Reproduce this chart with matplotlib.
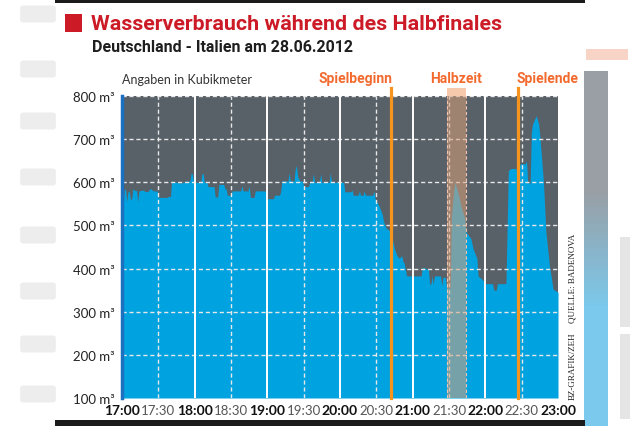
import numpy as np
import matplotlib.pyplot as plt
from matplotlib.patches import Rectangle, FancyBboxPatch
from matplotlib.colors import LinearSegmentedColormap

# Wasserverbrauch (m³) - Minuten nach 17:00 Uhr
minutes = [0, 1, 2, 3, 4, 5, 6, 7, 8, 9, 11, 12, 13, 14, 17, 20, 22, 23, 26, 29,
           30, 37, 38, 40, 41, 45, 49, 53, 56, 57, 58, 59, 60, 65, 66, 67, 68, 70, 71, 76,
           77, 79, 80, 84, 85, 86, 87, 90, 91, 98, 99, 100, 104, 105, 106, 109, 110, 118, 119, 120,
           125, 126, 130, 131, 132, 137, 138, 139, 142, 143, 144, 145, 147, 149, 150, 154, 155, 157, 158, 159,
           163, 164, 165, 171, 172, 173, 179, 183, 184, 189, 190, 191, 195, 196, 197, 199, 200, 201, 207, 208,
           209, 211, 213, 215, 216, 218, 220, 222, 225, 227, 229, 231, 232, 233, 235, 247, 248, 250, 251, 253,
           254, 255, 256, 257, 258, 263, 264, 265, 267, 268, 271, 272, 274, 275, 276, 278, 280, 283, 284, 288,
           290, 293, 294, 297, 300, 306, 307, 309, 310, 317, 319, 321, 325, 326, 327, 329, 333, 334, 335, 337,
           338, 339, 341, 342, 343, 344, 345, 348, 350, 353, 356, 360]
usage = [545, 550, 585, 582, 555, 580, 578, 560, 562, 585, 580, 582, 555, 580, 582, 578, 580, 586, 580, 580,
         565, 565, 567, 567, 603, 600, 598, 603, 602, 621, 620, 603, 600, 600, 620, 620, 600, 600, 590, 590,
         566, 566, 595, 595, 585, 585, 570, 570, 580, 580, 592, 580, 580, 592, 565, 565, 580, 580, 575, 562,
         562, 570, 570, 578, 603, 603, 622, 603, 603, 630, 639, 613, 603, 603, 590, 590, 600, 600, 620, 600,
         600, 620, 600, 600, 622, 600, 600, 600, 578, 578, 582, 570, 570, 580, 570, 570, 580, 570, 570, 580,
         562, 552, 540, 524, 509, 494, 490, 485, 445, 430, 424, 430, 416, 413, 383, 383, 402, 402, 399, 399,
         364, 364, 383, 364, 383, 383, 360, 380, 380, 355, 355, 520, 584, 600, 590, 570, 543, 516, 485, 470,
         445, 424, 383, 376, 365, 365, 350, 350, 365, 365, 627, 632, 632, 625, 635, 643, 643, 650, 600, 597,
         716, 735, 748, 755, 745, 735, 708, 600, 485, 405, 352, 345]

tick_minutes = [0, 30, 60, 90, 120, 150, 180, 210, 240, 270, 300, 330, 360]
tick_labels = ['17:00', '17:30', '18:00', '18:30', '19:00', '19:30', '20:00',
               '20:30', '21:00', '21:30', '22:00', '22:30', '23:00']
y_ticks = [100, 200, 300, 400, 500, 600, 700, 800]
y_labels = ['100 m³', '200 m³', '300 m³', '400 m³', '500 m³', '600 m³', '700 m³', '800 m³']

# Spielereignisse (Minuten nach 17:00)
kickoff = 222.5
halftime = (268, 284)
final_whistle = 327

BLUE = '#00a3e0'
GRAY = '#586068'
ORANGE = '#f7941d'
RED = '#cc1a26'


def fig_rect(fig, x, y, w, h, **kw):
    # rectangle in pixel coords measured from the top-left corner
    fig.add_artist(Rectangle((x / 640, 1 - (y + h) / 427), w / 640, h / 427,
                             transform=fig.transFigure, lw=0, **kw))


def draw_chart():
    fig = plt.figure(figsize=(6.4, 4.27), dpi=100)
    fig.patch.set_facecolor('white')

    # blurred screenshot surroundings
    fig_rect(fig, 55, 0, 530, 4, color='#1b1b1b')
    fig_rect(fig, 55, 421, 530, 6, color='#1b1b1b')
    for yy in [15, 70, 122, 178, 236, 292, 345, 395]:
        fig.add_artist(FancyBboxPatch((24 / 640, 1 - (yy + 6) / 427), 28 / 640, 12 / 427,
                                      boxstyle='round,pad=0.006', transform=fig.transFigure,
                                      color='#dcdcdc', lw=0, alpha=0.5))
    side = fig.add_axes([584 / 640, 0, 24 / 640, (427 - 72) / 427])
    cmap = LinearSegmentedColormap.from_list('side', ['#8e949a', '#8e949a', '#6cc3ea', '#6cc3ea'])
    side.imshow(np.linspace(0, 1, 100).reshape(-1, 1), aspect='auto', cmap=cmap,
                extent=(0, 1, 0, 1), origin='upper', alpha=0.9)
    side.axis('off')
    fig_rect(fig, 586, 50, 42, 11, color='#f6c3ae', alpha=0.7)
    fig_rect(fig, 620, 238, 10, 90, color='#d5d5d5', alpha=0.6)
    fig_rect(fig, 620, 335, 10, 85, color='#d5d5d5', alpha=0.6)

    # titles
    fig_rect(fig, 65, 15, 17, 18, color=RED)
    fig.text(91 / 640, 1 - 24 / 427, 'Wasserverbrauch während des Halbfinales',
             family=['Roboto', 'DejaVu Sans'], fontweight='bold',
             fontsize=15.4, color=RED, va='center', ha='left')
    fig.text(92 / 640, 1 - 47 / 427, 'Deutschland - Italien am 28.06.2012',
             family=['Roboto', 'DejaVu Sans'], fontweight='bold',
             fontsize=11.5, color='#1e1e1e', va='center', ha='left')

    ax = fig.add_axes([122 / 640, 28 / 427, 436 / 640, 302 / 427])
    ax.set_facecolor(GRAY)
    ax.fill_between(minutes, 100, usage, color=BLUE, lw=0, zorder=2)
    ax.set_xlim(0, 360)
    ax.set_ylim(100, 800)

    # grid
    for y in y_ticks[1:]:
        ax.axhline(y, color='#e8e8e8', lw=1, ls=(0, (3, 2)), zorder=3)
    for m in tick_minutes[1:-1]:
        if m % 60 == 0:
            ax.axvline(m, color='white', lw=1.4, zorder=3)
        else:
            ax.axvline(m, color='#e8e8e8', lw=1, ls=(0, (3, 2)), zorder=3)

    # halftime band
    ax.axvspan(halftime[0], halftime[1], color='#d9a07a', alpha=0.55, lw=0, zorder=4)
    for m in halftime:
        ax.axvline(m, color='#f2c4b0', lw=0.8, ls=(0, (3, 2)), zorder=4)
    ax.add_patch(Rectangle((halftime[0], 1.0), halftime[1] - halftime[0], 0.027,
                           transform=ax.get_xaxis_transform(), color='#f6c9ad',
                           lw=0, clip_on=False, zorder=4))
    for m in [kickoff, final_whistle]:
        ax.axvline(m, ymin=0, ymax=1.027, color=ORANGE, lw=2.3, clip_on=False, zorder=5)

    label_kw = dict(family=['Roboto', 'DejaVu Sans'], fontweight='bold',
                    fontsize=10, color='#f26a2e', va='bottom',
                    transform=ax.get_xaxis_transform())
    ax.text(kickoff + 0.5, 1.035, 'Spielbeginn', ha='right', **label_kw)
    ax.text(sum(halftime) / 2, 1.035, 'Halbzeit', ha='center', **label_kw)
    ax.text(final_whistle - 1, 1.035, 'Spielende', ha='left', **label_kw)
    ax.text(0, 1.035, 'Angaben in Kubikmeter', ha='left', va='bottom',
            family=['Lato', 'DejaVu Sans'], fontsize=9, color='#333333',
            transform=ax.transAxes)

    # spines and ticks
    for s in ['top', 'right', 'bottom']:
        ax.spines[s].set_visible(False)
    ax.spines['left'].set_color('#1c70c0')
    ax.spines['left'].set_linewidth(2.5)
    ax.spines['left'].set_zorder(6)
    ax.set_yticks(y_ticks)
    ax.set_yticklabels(y_labels, family=['Lato', 'DejaVu Sans'], fontsize=9.5, color='#222222')
    ax.set_xticks(tick_minutes)
    ax.set_xticklabels(tick_labels, family=['Lato', 'DejaVu Sans'], fontsize=9.5)
    for lab, m in zip(ax.get_xticklabels(), tick_minutes):
        if m % 60 == 0:
            lab.set_fontweight('bold')
            lab.set_fontsize(10)
            lab.set_color('#111111')
        else:
            lab.set_color('#555555')
    ax.tick_params(axis='both', length=0)
    ax.tick_params(axis='y', pad=5)
    ax.tick_params(axis='x', pad=4)

    # source notes
    fig.text(573 / 640, 1 - 366 / 427, 'BZ-GRAFIK/ZEH', rotation=90,
             family=['Liberation Serif', 'DejaVu Serif'], fontsize=6.5,
             color='#222222', ha='center', va='center')
    fig.text(573 / 640, 1 - 278 / 427, 'QUELLE: BADENOVA', rotation=90,
             family=['Liberation Serif', 'DejaVu Serif'], fontsize=6.5,
             color='#222222', ha='center', va='center')

    plt.savefig('out.png', dpi=100)
    plt.close()


if __name__ == "__main__":
    draw_chart()
